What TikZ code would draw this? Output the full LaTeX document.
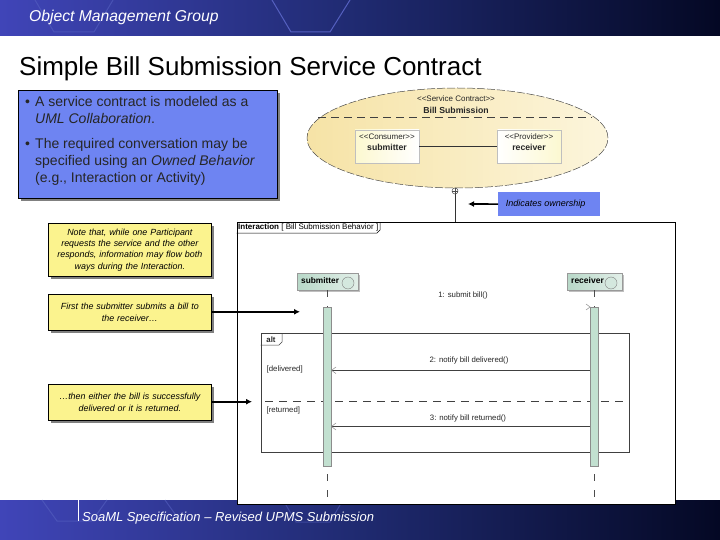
\documentclass[tikz,border=0pt]{standalone}
\usepackage{xcolor}
\usepackage{fontspec}
\setmainfont{Liberation Sans}
\usetikzlibrary{shapes.geometric,shadows,arrows.meta}
\definecolor{bandleft}{HTML}{4045B8}
\definecolor{bandmid}{HTML}{1F2A70}
\definecolor{bandright}{HTML}{040824}
\definecolor{hexline}{HTML}{5560C0}
\definecolor{bluebox}{HTML}{6E84F2}
\definecolor{yellowbox}{HTML}{FBF38E}
\definecolor{contractfill}{HTML}{F6E3A6}
\definecolor{contractlight}{HTML}{FCF5DC}
\definecolor{partfill}{HTML}{FCF8D0}
\definecolor{lifefill}{HTML}{C2E0D0}
\definecolor{headfill}{HTML}{B8D8C8}
\tikzset{
  boxshadow/.style={drop shadow={shadow xshift=2.5pt,shadow yshift=-2.5pt,fill=black!50,opacity=1}},
  notebox/.style={draw=black,line width=0.7pt,fill=yellowbox,boxshadow,minimum width=163pt,inner sep=1pt,
    text width=158pt,align=center,font=\fontsize{8.9}{11.3}\selectfont\itshape},
  bullettext/.style={anchor=north west,inner sep=0pt,align=left,font=\fontsize{14}{17}\selectfont,text=black!85},
  partbox/.style={fill=partfill,draw=black!25,minimum width=64pt,minimum height=33pt,inner sep=0pt},
  partlabel/.style={inner sep=0pt,align=center,font=\fontsize{8}{11}\selectfont,text=black!85},
  headbox/.style={left color=headfill,right color=headfill!40,draw=black!40,minimum height=17pt,inner sep=0pt,
    drop shadow={shadow xshift=1.5pt,shadow yshift=-1.5pt,fill=black!25,opacity=1}},
  headball/.style={circle,draw=black!50,fill=headfill!60,minimum size=12pt,inner sep=0pt},
  activation/.style={fill=lifefill,draw=black!45,line width=0.5pt,minimum width=8pt,inner sep=0pt},
  lifeline/.style={draw=black!70,line width=0.5pt,dash pattern=on 7pt off 9pt},
  message/.style={draw=black!75,line width=0.6pt},
  msgtip/.style={draw=black!45,line width=0.5pt},
  callout/.style={draw=black,line width=1.6pt,-{Latex[length=6pt,width=6pt]}},
  smalltext/.style={inner sep=0pt,font=\fontsize{7.8}{9}\selectfont,text=black!85},
  hexdeco/.style={draw=hexline,line width=1pt},
}
\begin{document}
\begin{tikzpicture}[x=1pt,y=-1pt]
  \useasboundingbox (0,0) rectangle (720,540);
  % bands
  \shade[left color=bandleft,right color=bandright,middle color=bandmid] (0,0) rectangle (720,36);
  \shade[left color=bandleft,right color=bandright,middle color=bandmid] (0,500) rectangle (720,540);
  \draw[hexdeco,opacity=0.6] (35,0) -- (54,32) -- (94,32) -- (113,0);
  \draw[hexdeco] (272,0) -- (291,32) -- (330,32) -- (350,0);
  \draw[hexdeco,opacity=0.6] (42,500) -- (57,521) -- (92,521) -- (107,500);
  \draw[hexdeco,opacity=0.6] (165,500) -- (180,521);
  \draw[hexdeco,opacity=0.5] (283,500) -- (296,522) -- (330,522) -- (343,500);
  \node[anchor=west,inner sep=0pt,text=white,font=\fontsize{15.7}{18}\selectfont\itshape] (omg) at (29,17.5) {Object Management Group};
  \node[anchor=west,inner sep=0pt,font=\fontsize{26}{30}\selectfont] (title) at (19,68.5) {Simple Bill Submission Service Contract};
  \node[anchor=west,inner sep=0pt,text=white,font=\fontsize{13}{15}\selectfont\itshape] (spec) at (82,518) {SoaML Specification -- Revised UPMS Submission};
  \draw[white,line width=0.6pt] (78,499) -- (78,521);

  % text box
  \node[draw=black,line width=0.7pt,fill=bluebox,boxshadow,anchor=north west,minimum width=259pt,minimum height=108pt,inner sep=0pt] (intro) at (18,90) {};
  \node[bullettext] (introa) at (35,96.5) {A service contract is modeled as a\\\textit{UML Collaboration}.};
  \node[bullettext] (introb) at (35,138.5) {The required conversation may be\\specified using an \textit{Owned Behavior}\\(e.g., Interaction or Activity)};
  \node[bullettext] (dota) at (25,96.5) {\vphantom{A}\textbullet};
  \node[bullettext] (dotb) at (25,138.5) {\vphantom{A}\textbullet};

  % collaboration
  \node[ellipse,draw=black!70,dash pattern=on 8pt off 2pt,line width=0.5pt,left color=contractfill,right color=contractlight,minimum width=301pt,minimum height=100pt,inner sep=0pt] (contract) at (457.5,138) {};
  \node[partlabel,font=\fontsize{8}{12}\selectfont] (contractname) at (456,104.5) {<{}<Service Contract>{}>\\{\fontsize{8.7}{12}\selectfont\bfseries Bill Submission}};
  \coordinate (chordl) at (318,117);
  \coordinate (chordr) at (592,117);
  \draw[black!75,line width=0.6pt,dash pattern=on 8pt off 5pt] (chordl) -- (chordr);
  \node[partbox,left color=partfill,right color=white] (submitter) at (387,146.5) {};
  \node[partbox,right color=partfill,left color=white] (receiver) at (529.5,146.5) {};
  \node[partlabel] (submitterlabel) at (387,142.5) {<{}<Consumer>{}>\\{\fontsize{8.7}{11}\selectfont\bfseries submitter}};
  \node[partlabel] (receiverlabel) at (529,142.5) {<{}<Provider>{}>\\{\fontsize{8.7}{11}\selectfont\bfseries receiver}};
  \draw[black!80,line width=0.5pt] (submitter) -- (receiver);

  % owned behavior frame
  \node[draw=black,line width=0.8pt,fill=white,anchor=north west,minimum width=438.5pt,minimum height=281.5pt,inner sep=0pt] (frame) at (236.5,222.5) {};
  \coordinate (ownerbot) at (455,222.5);
  \node[circle,draw=black!70,line width=0.5pt,minimum size=6pt,inner sep=0pt,fill=white] (ownermark) at (455,191) {};
  \draw[black!70,line width=0.4pt] (ownermark.north) -- (ownermark.south) (ownermark.west) -- (ownermark.east);
  \draw[black!80,line width=0.6pt] (ownermark) -- (ownerbot);
  \node[fill=bluebox,anchor=north west,minimum width=102pt,minimum height=24pt,inner sep=0pt,font=\fontsize{9}{10}\selectfont\itshape] (ownnote) at (498,192) {\hspace*{-7pt}Indicates ownership};
  \coordinate (ownertip) at (468,204);
  \draw[callout] (ownnote) -- (ownertip);
  \draw[black,line width=0.5pt] (236.5,233) -- (377,233) -- (380,230) -- (380,222.5);
  \node[anchor=west,inner sep=0pt,font=\fontsize{8}{9}\selectfont] (framename) at (238,227.5) {\textbf{Interaction} [ Bill Submission Behavior ]};

  % alt fragment
  \node[draw=black!75,line width=0.6pt,anchor=north west,minimum width=368.5pt,minimum height=119pt,inner sep=0pt] (alt) at (260.5,333) {};
  \draw[black!75,line width=0.5pt] (260.5,345) -- (279,345) -- (282,342) -- (282,333);
  \node[smalltext] (altname) at (271,339.5) {\textbf{alt}};
  \node[smalltext,anchor=west] (delivered) at (266.5,369) {[delivered]};
  \node[smalltext,anchor=west] (returned) at (266.5,410.5) {[returned]};
  \coordinate (altl) at (265,401.7);
  \coordinate (altr) at (627,401.7);
  \draw[black!75,line width=0.6pt,dash pattern=on 8pt off 6pt] (altl) -- (altr);

  % lifelines
  \node[headbox,anchor=north west,minimum width=61pt] (subhead) at (297,273) {};
  \node[inner sep=0pt,anchor=west,font=\fontsize{8.3}{9}\selectfont\bfseries] (subname) at (301,280.5) {submitter};
  \node[headball] (subball) at (348,283) {};
  \node[headbox,anchor=north west,minimum width=55pt] (rcvhead) at (567,273) {};
  \node[inner sep=0pt,anchor=west,font=\fontsize{8.5}{9}\selectfont] (rcvname) at (571,280.5) {\textbf{receiver}};
  \node[headball] (rcvball) at (611,283) {};
  \node[activation,anchor=north,minimum height=158.5pt] (subbar) at (327.3,307) {};
  \node[activation,anchor=north,minimum height=158.5pt] (rcvbar) at (594,307) {};
  \coordinate (subend) at (327.3,497);
  \coordinate (rcvend) at (594,497);
  \draw[lifeline] (subbar.north |- subhead.south) -- (subbar.north);
  \draw[lifeline] (rcvbar.north |- rcvhead.south) -- (rcvbar.north);
  \draw[lifeline] (subbar.south) ++(0,8) -- (subend);
  \draw[lifeline] (rcvbar.south) ++(0,8) -- (rcvend);

  % messages
  \node[smalltext] (msga) at (463,295) {1: submit bill()};
  \node[smalltext] (msgb) at (469,360.5) {2: notify bill delivered()};
  \node[smalltext] (msgc) at (468,418) {3: notify bill returned()};
  \draw[message] (rcvbar.west |- 0,370.3) -- (subbar.east |- 0,370.3);
  \draw[message] (rcvbar.west |- 0,426.5) -- (subbar.east |- 0,426.5);
  \draw[msgtip] (586,304) -- (590,307) -- (586,310);
  \draw[msgtip] (336,367) -- (331.5,370.3) -- (336,373.6);
  \draw[msgtip] (336,423) -- (331.5,426.5) -- (336,430);

  % notes
  \node[notebox,anchor=north west,minimum height=53.5pt] (notea) at (48,222.7) {Note that, while one Participant\\requests the service and the other\\responds, information may flow both\\ways during the Interaction.};
  \node[notebox,anchor=north west,minimum height=36pt] (noteb) at (48,294) {First the submitter submits a bill to\\the receiver\ldots};
  \node[notebox,anchor=north west,minimum height=36pt] (notec) at (48,384) {\ldots then either the bill is successfully\\delivered or it is returned.};
  \coordinate (tipb) at (300,311.8);
  \coordinate (tipc) at (252,401.7);
  \draw[callout] (noteb.east |- tipb) -- (tipb);
  \draw[callout] (notec.east |- tipc) -- (tipc);
\end{tikzpicture}
\end{document}
